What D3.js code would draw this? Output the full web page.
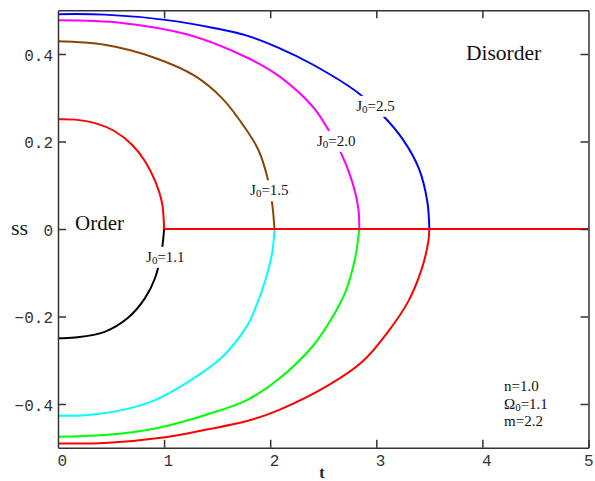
<!DOCTYPE html>
<html>
<head>
<meta charset="utf-8">
<script src="https://cdnjs.cloudflare.com/ajax/libs/d3/7.8.5/d3.min.js"></script>
<style>
  html, body { margin: 0; padding: 0; background: #fff; }
  svg { display: block; }
</style>
</head>
<body>
<svg id="chart" width="595" height="481"></svg>
<script>
// ---------- data ----------
const tTicks = [0, 1, 2, 3, 4, 5];
const ssTicks = [-0.4, -0.2, 0, 0.2, 0.4];
const ssTickLabels = ["\u22120.4", "\u22120.2", "0", "0.2", "0.4"];

// [t, ss] points, upper (ss > 0) and lower (ss < 0) branches
const j11Upper = [[0,0.251],[0.16,0.250],[0.35,0.242],[0.53,0.224],[0.70,0.192],[0.82,0.155],[0.915,0.110],[0.98,0.060],[1.0,0]];
const j11Lower = [[0,-0.250],[0.16,-0.248],[0.44,-0.235],[0.66,-0.203],[0.82,-0.158],[0.915,-0.112],[0.98,-0.045],[1.0,0]];
const j15Upper = [[0,0.429],[0.44,0.421],[0.915,0.391],[1.29,0.350],[1.55,0.298],[1.78,0.225],[1.89,0.180],[1.97,0.121],[2.02,0.055],[2.04,0]];
const j15Lower = [[0,-0.427],[0.28,-0.425],[0.60,-0.414],[0.915,-0.391],[1.23,-0.349],[1.55,-0.292],[1.78,-0.222],[1.86,-0.181],[1.95,-0.120],[2.02,-0.052],[2.04,0]];
const j20Upper = [[0,0.477],[0.60,0.471],[1.23,0.444],[1.78,0.392],[2.08,0.350],[2.40,0.280],[2.54,0.230],[2.66,0.178],[2.77,0.110],[2.83,0.048],[2.84,0]];
const j20Lower = [[0,-0.475],[0.44,-0.471],[0.915,-0.456],[1.39,-0.425],[1.78,-0.391],[2.08,-0.343],[2.40,-0.268],[2.58,-0.204],[2.71,-0.143],[2.80,-0.067],[2.84,0]];
const j25Upper = [[0,0.491],[0.44,0.490],[1.01,0.478],[1.48,0.459],[1.78,0.442],[2.08,0.414],[2.40,0.376],[2.83,0.311],[3.06,0.260],[3.25,0.205],[3.40,0.139],[3.48,0.064],[3.50,0]];
const j25Lower = [[0,-0.490],[0.44,-0.489],[1.01,-0.476],[1.39,-0.459],[1.78,-0.439],[2.08,-0.414],[2.55,-0.357],[2.87,-0.303],[3.11,-0.235],[3.30,-0.166],[3.43,-0.090],[3.49,-0.029],[3.50,0]];
const disorderLine = [[1.0,0],[5,0]];

const curveData  = [j25Upper, j20Upper, j15Upper, j11Upper, j25Lower, j20Lower, j15Lower, j11Lower];
const curveColors = ["#0000ff", "#ff00ff", "#8b4500", "#ff0000", "#ff0000", "#00ff00", "#00ffff", "#000000"];

const curveLabelsJ = ["1.1", "1.5", "2.0", "2.5"];
const curveLabelPos = [[0.83, -0.075], [1.81, 0.077], [2.44, 0.19], [2.81, 0.27]]; // label left/baseline anchor in data units
const paramLines = [["n", "", "=1.0"], ["\u03a9", "0", "=1.1"], ["m", "", "=2.2"]];

// ---------- scales ----------
const svg = d3.select("#chart");
const x = d3.scaleLinear().domain([0, 5]).range([58, 588.5]);
const y = d3.scaleLinear().domain([-0.5, 0.5]).range([447.75, 10.25]);

svg.append("defs").append("clipPath").attr("id", "plotclip")
  .append("rect")
  .attr("x", x(0)).attr("y", y(0.5))
  .attr("width", x(5) - x(0)).attr("height", y(-0.5) - y(0.5));

const plot = svg.append("g").attr("clip-path", "url(#plotclip)");

const curveGen = d3.line().x(d => x(d[0])).y(d => y(d[1])).curve(d3.curveCatmullRom.alpha(0.5));
const lineGen = d3.line().x(d => x(d[0])).y(d => y(d[1]));

curveData.forEach((pts, i) => {
  // vertical segment at t = 0 from ss = 0 to the curve start
  plot.append("path")
    .attr("d", lineGen([[pts[0][0], 0], pts[0]]))
    .attr("fill", "none").attr("stroke", curveColors[i]).attr("stroke-width", 2);
  plot.append("path")
    .attr("d", curveGen(pts))
    .attr("fill", "none").attr("stroke", curveColors[i]).attr("stroke-width", 2);
});

plot.append("path")
  .attr("d", lineGen(disorderLine))
  .attr("fill", "none").attr("stroke", "#ff0000").attr("stroke-width", 2);

// ---------- curve labels (white background makes the gap in the curves) ----------
curveLabelsJ.forEach((v, i) => {
  const g = svg.append("g");
  const txt = g.append("text")
    .attr("x", x(curveLabelPos[i][0]))
    .attr("y", y(curveLabelPos[i][1]))
    .attr("font-family", "'Liberation Serif', 'Times New Roman', serif")
    .attr("font-size", 15)
    .attr("fill", "#111");
  txt.append("tspan").text("J");
  txt.append("tspan").attr("font-size", 11).attr("dy", 2).text("0");
  txt.append("tspan").attr("dy", -2).text("=" + v);
  const bb = txt.node().getBBox();
  g.insert("rect", "text")
    .attr("x", bb.x - 3).attr("y", bb.y - 2)
    .attr("width", bb.width + 6).attr("height", bb.height + 4)
    .attr("fill", "#fff");
});

// ---------- axes (inward ticks on all four sides) ----------
const axisColor = "#333";
const tickFont = "'Liberation Mono', 'Courier New', monospace";

const gLeft = svg.append("g").attr("transform", `translate(${x(0)},0)`)
  .call(d3.axisLeft(y).tickValues(ssTicks).tickSize(-8).tickSizeOuter(0).tickPadding(5)
        .tickFormat((d, i) => ssTickLabels[i]));
const gBottom = svg.append("g").attr("transform", `translate(0,${y(-0.5)})`)
  .call(d3.axisBottom(x).tickValues(tTicks).tickSize(-8).tickSizeOuter(0).tickPadding(7)
        .tickFormat(d3.format("d")));
const gTop = svg.append("g").attr("transform", `translate(0,${y(0.5)})`)
  .call(d3.axisTop(x).tickValues(tTicks.slice(1, -1)).tickSize(-8).tickSizeOuter(0).tickFormat(""));
const gRight = svg.append("g").attr("transform", `translate(${x(5)},0)`)
  .call(d3.axisRight(y).tickValues(ssTicks).tickSize(-8).tickSizeOuter(0).tickFormat(""));

[gLeft, gBottom, gTop, gRight].forEach(g => {
  g.selectAll(".domain").attr("stroke", axisColor).attr("stroke-width", 1.5);
  g.selectAll(".tick line").attr("stroke", axisColor).attr("stroke-width", 1.5);
  g.selectAll(".tick text").attr("fill", "#333").attr("font-family", tickFont).attr("font-size", 16);
});
gBottom.selectAll(".tick").filter(d => d === 0).select("line").remove();
gBottom.selectAll(".tick text").attr("text-anchor", "start").attr("x", d => d === 5 ? -5 : -1);
gLeft.selectAll(".tick text").attr("dy", "0.4em");

// ---------- axis titles & annotations ----------
const serif = "'Liberation Serif', 'Times New Roman', serif";
svg.append("text").attr("x", 322).attr("y", 478).attr("text-anchor", "middle")
  .attr("font-family", serif).attr("font-weight", "bold").attr("font-size", 16).attr("fill", "#222").text("t");
svg.append("text").attr("x", 11).attr("y", 235)
  .attr("font-family", serif).attr("font-size", 22).attr("fill", "#222").text("ss");
svg.append("text").attr("x", 75).attr("y", 230)
  .attr("font-family", serif).attr("font-size", 21).attr("fill", "#111").text("Order");
svg.append("text").attr("x", 466).attr("y", 60)
  .attr("font-family", serif).attr("font-size", 21.5).attr("fill", "#111").text("Disorder");

paramLines.forEach((p, i) => {
  const t = svg.append("text").attr("x", 504).attr("y", 391 + i * 17.5)
    .attr("font-family", serif).attr("font-size", 15).attr("fill", "#111");
  t.append("tspan").text(p[0]);
  if (p[1]) {
    t.append("tspan").attr("font-size", 11).attr("dy", 2).text(p[1]);
    t.append("tspan").attr("dy", -2).text(p[2]);
  } else {
    t.append("tspan").text(p[2]);
  }
});
</script>
</body>
</html>
